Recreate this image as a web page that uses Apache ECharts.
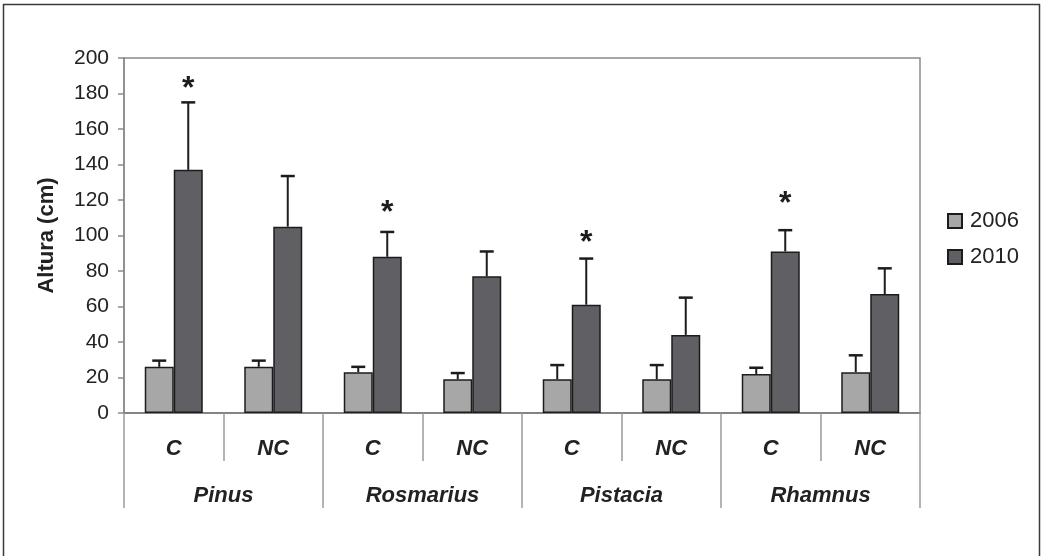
<!DOCTYPE html>
<html>
<head>
<meta charset="utf-8">
<script src="https://cdn.jsdelivr.net/npm/echarts@6/dist/echarts.min.js"></script>
<style>
html,body{margin:0;padding:0;background:#fff;}
#chart{width:1043px;height:556px;}
</style>
</head>
<body>
<div id="chart"></div>
<script>
// ---- data ----
const treatments = ['C', 'NC', 'C', 'NC', 'C', 'NC', 'C', 'NC'];
const species = ['Pinus', 'Rosmarius', 'Pistacia', 'Rhamnus'];
const seriesNames = ['2006', '2010'];
const values2006 = [26, 26, 23, 19, 19, 19, 22, 23];
const errors2006 = [3.5, 3.5, 3, 3.5, 8, 8, 3.5, 9.5];
const values2010 = [137, 105, 88, 77, 61, 44, 91, 67];
const errors2010 = [38, 28.5, 14, 14, 26, 21, 12, 14.5];
const asteriskHeights = [186, null, 116, null, 99, null, 121, null];
const yTicks = {min: 0, max: 200, interval: 20};

// ---- styling ----
const FONT = '"Liberation Sans", Arial, sans-serif';
const BAR_W = 29;
const colors = ['#a7a7a7', '#5f5f64'];
const edge = '#1c1c1c';

function errItem(offset) {
  return function (params, api) {
    const i = api.value(0), v = api.value(1), e = api.value(2);
    const base = api.coord([i, v]);
    const top = api.coord([i, v + e]);
    const cx = base[0] + offset;
    return {
      type: 'group',
      children: [
        {type: 'line', shape: {x1: cx, y1: base[1], x2: cx, y2: top[1]}, style: {stroke: '#1c1c1c', lineWidth: 2}},
        {type: 'line', shape: {x1: cx - 7, y1: top[1], x2: cx + 7, y2: top[1]}, style: {stroke: '#1c1c1c', lineWidth: 2.5}}
      ]
    };
  };
}

const chart = echarts.init(document.getElementById('chart'), null, {renderer: 'canvas'});
chart.setOption({
  backgroundColor: '#fff',
  animation: false,
  textStyle: {fontFamily: FONT},
  graphic: [{
    type: 'rect', shape: {x: 3.5, y: 4.5, width: 1036, height: 560},
    style: {fill: 'none', stroke: '#3a3a3a', lineWidth: 1.5}, silent: true
  }],
  grid: {left: 124, right: 123, top: 58, bottom: 143, show: true, borderColor: '#8a8a8a', borderWidth: 1.5, backgroundColor: 'transparent'},
  legend: {
    orient: 'vertical', left: 942, top: 205,
    itemWidth: 14, itemHeight: 14, itemGap: 14,
    icon: 'rect',
    textStyle: {fontSize: 22, color: '#222', fontFamily: FONT, padding: [0, 0, 0, 3]},
    data: seriesNames
  },
  xAxis: [{
    type: 'category', data: treatments,
    axisLine: {show: true, lineStyle: {color: '#7a7a7a', width: 1.5}},
    axisTick: {show: true, length: 48, interval: 0, lineStyle: {color: '#9a9a9a', width: 1.5}},
    axisLabel: {interval: 0, margin: 25, fontSize: 22, fontWeight: 'bold', fontStyle: 'italic', color: '#222', fontFamily: FONT}
  }, {
    type: 'category', data: species, position: 'bottom',
    axisLine: {show: false},
    axisTick: {show: true, length: 95, interval: 0, lineStyle: {color: '#9a9a9a', width: 1.5}},
    axisLabel: {interval: 0, margin: 72, fontSize: 22, fontWeight: 'bold', fontStyle: 'italic', color: '#222', fontFamily: FONT}
  }],
  yAxis: {
    type: 'value', min: yTicks.min, max: yTicks.max, interval: yTicks.interval,
    name: 'Altura (cm)', nameLocation: 'middle', nameGap: 66, nameRotate: 90,
    nameTextStyle: {fontSize: 22, fontWeight: 'bold', color: '#222', fontFamily: FONT},
    axisLine: {show: true, lineStyle: {color: '#8a8a8a', width: 1.5}},
    axisTick: {show: true, length: 6, lineStyle: {color: '#8a8a8a', width: 1.5}},
    axisLabel: {fontSize: 21, color: '#222', margin: 15, fontFamily: FONT},
    splitLine: {show: false}
  },
  series: [{
    name: seriesNames[0], type: 'bar', data: values2006, barWidth: BAR_W, barGap: '0%',
    itemStyle: {color: colors[0], borderColor: edge, borderWidth: 1.5}, z: 3
  }, {
    name: seriesNames[1], type: 'bar', data: values2010, barWidth: BAR_W, barGap: '0%',
    itemStyle: {color: colors[1], borderColor: edge, borderWidth: 1.5}, z: 3
  }, {
    type: 'custom', name: 'err2006', z: 2,
    data: values2006.map((v, i) => [i, v, errors2006[i]]),
    renderItem: errItem(-BAR_W / 2), silent: true
  }, {
    type: 'custom', name: 'err2010', z: 2,
    data: values2010.map((v, i) => [i, v, errors2010[i]]),
    renderItem: errItem(BAR_W / 2), silent: true
  }, {
    type: 'custom', name: 'sig', z: 4,
    data: asteriskHeights.map((h, i) => [i, h]).filter(d => d[1] !== null),
    renderItem: function (params, api) {
      const p = api.coord([api.value(0), api.value(1)]);
      return {
        type: 'text',
        style: {x: p[0] + BAR_W / 2, y: p[1] + 6, text: '*', fill: '#1c1c1c',
          font: 'bold 32px ' + FONT, textAlign: 'center', textVerticalAlign: 'middle'}
      };
    }, silent: true
  }]
});
</script>
</body>
</html>
